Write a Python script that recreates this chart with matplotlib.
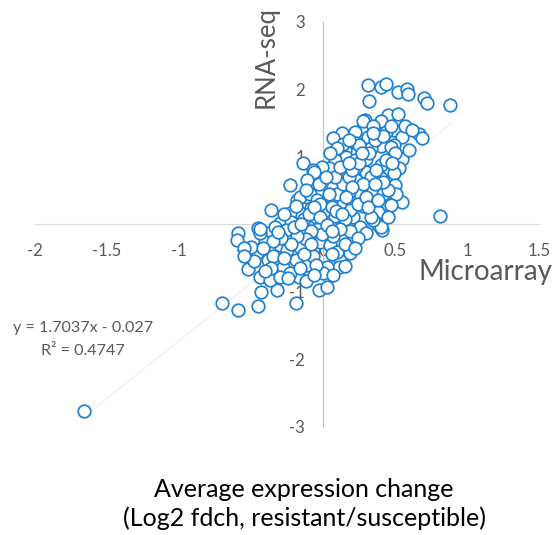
import numpy as np
import matplotlib
matplotlib.use('Agg')
import matplotlib.pyplot as plt

#calibri is not installed, lato is the closest humanist sans we have
plt.rcParams['font.family'] = ['Lato', 'DejaVu Sans']


#average log2 fold change resistant/susceptible
microarray = [0.31, 0.40, 0.44, 0.32, 0.52, 0.58, 0.59, 0.70, 0.72, 0.88,
              0.67, 0.69, 0.45, 0.52, 0.40, 0.29, 0.49, 0.28, 0.13, 0.07,
              0.22, 0.31, 0.55, 0.49, 0.40, 0.23, 0.15, 0.33, 0.44, 0.28,
              0.14, 0.25, 0.47, 0.55, 0.53, 0.49, 0.50, 0.55, 0.45, 0.41,
              0.38, 0.81, -0.14, -0.23, -0.36, -0.45, -0.59, -0.60, -0.52, -0.44,
              -0.43, -0.70, -0.59, -0.45, -0.19, -0.03, 0.03, -0.32, -0.17, -0.38,
              -0.28, -0.11, 0.12, 0.19, 0.11, 0.03, 0.00, 0.20, 0.28, 0.35,
              0.21, 0.16, 0.26, 0.35, 0.42, 0.40, 0.30, 0.23, 0.16, 0.08,
              0.04, -0.01, -0.07, -0.09, -0.11, -0.18, -0.17, -0.23, -0.30, -0.39,
              -0.40, -0.30, -0.25, -0.35, -0.46, -0.50, -0.19, -0.16, -0.07, -0.02,
              0.05, 0.10, -0.07, -0.23, -0.37, -0.30, -0.55, -0.44, -0.06, -0.11,
              -0.16, -0.23, -0.33, -0.22, -0.09, -0.04, -0.08, -0.13, -0.26, -0.44,
              0.51, 0.47, 0.38, 0.40, 0.35, 0.22, 0.30, 0.40, 0.12, 0.23,
              0.33, 0.18, 0.07, 0.28, 0.19, 0.12, 0.03, 0.10, 0.26, 0.30,
              0.19, 0.00, 0.02, -0.03, 0.05, -0.05, 0.08, 0.01, -0.02, 0.06,
              0.10, 0.14, 0.18, 0.20, 0.25, 0.32, 0.36, 0.42, 0.35, 0.47,
              0.50, 0.44, 0.37, 0.28, 0.24, 0.30, 0.33, 0.15, 0.12, 0.07,
              -0.01, -0.08, -0.12, -0.18, -0.22, -0.13, -0.05, 0.06, 0.15, 0.24,
              -0.29, -0.35, -0.42, -0.48, -0.36, -0.27, -0.20, -0.15, -0.10, -0.06,
              0.04, -0.03, 0.08, 0.02, 0.12, 0.18, 0.27, 0.45, 0.42, 0.45,
              0.20, 0.16, 0.06, -0.12, -0.19, -0.27, -0.31, -0.24, -0.12, -0.06,
              0.07, 0.15, -0.40, -0.55, -0.02, 0.03, 0.09, 0.13, 0.22, 0.06,
              -0.08, -0.16, 0.31, 0.38, 0.36, 0.48, 0.60, 0.57, 0.62, 0.35,
              0.18, 0.10, 0.05, -1.66]
rnaseq = [2.06, 2.03, 2.08, 1.82, 1.95, 2.00, 1.92, 1.86, 1.80, 1.76,
          1.33, 1.27, 1.61, 1.63, 1.53, 1.54, 1.40, 1.42, 1.35, 1.27,
          1.37, 1.29, 1.29, 1.17, 1.15, 1.20, 1.10, 1.13, 1.37, 1.52,
          1.19, 1.17, 1.14, 0.97, 0.83, 0.75, 0.58, 0.33, 0.28, -0.09,
          -0.01, 0.12, 0.90, 0.58, 0.21, -0.06, -0.13, -0.24, -0.67, -0.78,
          -1.00, -1.17, -1.27, -1.22, -1.17, -0.98, -0.93, -0.98, -0.78, -0.53,
          -0.63, -0.61, -0.53, -0.43, -0.63, -0.63, -0.73, -0.26, -0.11, 0.23,
          0.11, 0.31, 0.45, 0.50, 0.45, 0.68, 0.77, 0.85, 1.00, 0.95,
          0.83, 0.85, 0.80, 0.60, 0.40, 0.36, 0.18, 0.06, 0.01, -0.14,
          -0.26, -0.31, -0.39, -0.48, -0.43, -0.34, -0.53, -0.34, -0.39, -0.26,
          -0.31, -0.41, -0.48, -0.73, -0.83, -0.78, -0.36, -0.13, 0.77, 0.65,
          0.40, 0.16, -0.04, 0.03, 0.45, 0.36, 0.23, 0.08, -0.09, -0.08,
          0.45, 0.28, 0.18, -0.04, 0.06, 0.95, 0.97, 0.87, 0.63, 0.65,
          0.70, 0.48, 0.55, 0.26, 0.21, 0.31, 0.16, 0.03, -0.04, -0.14,
          -0.11, 0.00, 0.05, -0.05, -0.02, 0.10, 0.12, 0.20, 0.30, 0.38,
          0.45, 0.60, 0.70, 0.80, 0.90, 1.05, 1.25, 1.30, 1.45, 1.45,
          1.05, 0.95, 0.80, 0.60, 0.30, 0.40, 0.10, 0.08, -0.08, -0.18,
          -0.15, -0.10, -0.22, -0.18, -0.30, -0.45, -0.60, -0.45, -0.30, -0.20,
          -0.20, -0.25, -0.35, -0.55, -0.65, -0.50, -0.05, 0.00, 0.15, 0.25,
          0.45, 0.60, 0.70, 0.70, 0.85, 0.90, 1.05, 0.50, 0.62, 0.10,
          0.55, 0.40, 0.25, 0.50, 0.27, 0.15, -0.12, -0.80, -0.85, -0.75,
          -0.75, -0.62, -0.70, -0.48, 0.10, -0.02, 0.20, 0.15, -0.35, -0.10,
          -0.30, -0.65, 0.25, 0.35, 0.60, 0.90, 1.10, 1.45, 1.40, 1.35,
          1.25, 1.12, 1.05, -2.77]

#excel linear trendline
slope = 1.7037
intercept = -0.027
r_squared = 0.4747
trend_x = [-1.66, 0.90]

x_ticks = [-2, -1.5, -1, -0.5, 0, 0.5, 1, 1.5]
x_tick_labels = ['-2', '-1.5', '-1', '-0.5', '0', '0.5', '1', '1.5']
y_ticks = [-3, -2, -1, 0, 1, 2, 3]
y_tick_labels = ['-3', '-2', '-1', '0', '1', '2', '3']

text_grey = '#595959'
point_blue = '#1f80d0'


fig = plt.figure(figsize=(5.53, 5.35), dpi=100)
ax = fig.add_axes([0.0633, 0.2028, 0.9114, 0.757])

#trendline goes behind the points, it is barely visible in the original
trend_y = [slope * v + intercept for v in trend_x]
ax.plot(trend_x, trend_y, color='#f0f0f0', lw=1.0, zorder=1)

ax.scatter(microarray, rnaseq, s=82, facecolors='white', edgecolors=point_blue,
           linewidths=1.25, zorder=3, clip_on=False)

ax.set_xlim(-2, 1.5)
ax.set_ylim(-3, 3)

#axes cross at the origin like the excel chart
ax.spines['left'].set_position(('data', 0))
ax.spines['bottom'].set_position(('data', 0))
ax.spines['top'].set_visible(False)
ax.spines['right'].set_visible(False)
ax.spines['left'].set_color('#bfbfbf')
ax.spines['bottom'].set_color('#d9d9d9')
ax.spines['left'].set_zorder(2)
ax.spines['bottom'].set_zorder(2)

ax.set_xticks(x_ticks)
ax.set_xticklabels(x_tick_labels)
ax.set_yticks(y_ticks)
ax.set_yticklabels(y_tick_labels)
ax.tick_params(length=0, labelsize=12, labelcolor=text_grey)
ax.tick_params(axis='x', pad=14)
ax.tick_params(axis='y', pad=13)
ax.patch.set_alpha(0)

#axis titles sitting next to the axis ends
fig.text(0.481, 0.893, 'RNA-seq', rotation=90, ha='center', va='center',
         fontsize=18.5, color=text_grey)
fig.text(0.999, 0.492, 'Microarray', ha='right', va='center',
         fontsize=20, color=text_grey)

#trendline equation
fig.text(0.15, 0.387, 'y = %.4fx - %.3f' % (slope, -intercept), ha='center',
         va='center', fontsize=11.6, color=text_grey)
fig.text(0.15, 0.344, 'R² = %.4f' % r_squared, ha='center', va='center',
         fontsize=11.6, color=text_grey)

fig.text(0.55, 0.058, 'Average expression change\n(Log2 fdch, resistant/susceptible)',
         ha='center', va='center', fontsize=18, color='black', linespacing=1.25)

fig.savefig('out.png', dpi=100)
